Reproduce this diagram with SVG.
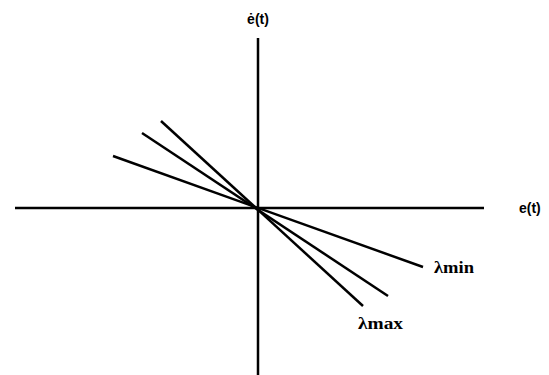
<svg xmlns="http://www.w3.org/2000/svg" width="549" height="375" viewBox="0 0 549 375">
<style>
.ln{stroke:#000;stroke-width:2.5;fill:none}
.ax{font-family:"Liberation Sans",Arial,sans-serif;font-weight:bold;font-size:14px;fill:#000}
.lb{font-family:"Liberation Serif","Times New Roman",serif;font-weight:bold;font-size:16px;fill:#000}
</style>
<rect width="549" height="375" fill="#fff"/>
<g id="connectors">
<line class="ln" x1="258" y1="38" x2="258" y2="375"/>
<line class="ln" x1="15" y1="208" x2="484" y2="208"/>
<line class="ln" x1="113" y1="156" x2="423" y2="267"/>
<line class="ln" x1="142" y1="133" x2="388" y2="296"/>
<line class="ln" x1="161" y1="121" x2="363" y2="306"/>
</g>
<g id="label-edot"><text class="ax" x="258" y="24" text-anchor="middle">ė(t)</text></g>
<g id="label-e"><text class="ax" x="519" y="213">e(t)</text></g>
<g id="label-lmin"><text class="lb" x="434" y="273" textLength="40" lengthAdjust="spacingAndGlyphs">λmin</text></g>
<g id="label-lmax"><text class="lb" x="358" y="329" textLength="45" lengthAdjust="spacingAndGlyphs">λmax</text></g>
</svg>
